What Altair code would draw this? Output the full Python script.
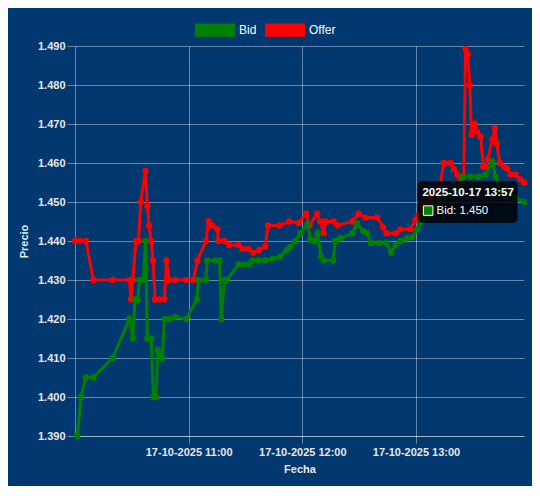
import altair as alt
import pandas as pd

# ---------------- data ----------------
series_names = ["Bid", "Offer"]
series_colors = ["#008000", "#ff0000"]

# minutes after 10:00 on 2025-10-17
bid_min = [1.2, 3.2, 5.7, 9.7, 19.9, 28.7, 30.5, 31.7, 33.1, 34.0, 36.1, 37.2, 38.2, 40.2, 41.4,
           42.7, 43.7, 46.1, 47.2, 49.8, 52.9, 58.7, 64.3, 65.2, 69.1, 69.8, 74.0, 76.3, 77.2, 78.9,
           80.2, 86.3, 89.0, 92.0, 93.7, 96.9, 100.4, 104.3, 108.4, 111.9, 113.6, 116.3, 118.9, 122.8,
           124.2, 126.3, 128.1, 129.9, 131.3, 136.2, 137.4, 140.1, 146.3, 148.9, 152.1, 154.2, 156.3,
           160.3, 164.4, 166.9, 169.2, 171.8, 175.3, 178.0, 180.6, 182.9, 185.5, 188.7, 192.9, 197.2,
           201.4, 204.6, 208.8, 213.0, 216.7, 220.3, 222.0, 224.7, 228.4, 232.6, 237.0]
bid_val = [1.390, 1.400, 1.405, 1.405, 1.410, 1.420, 1.415, 1.425, 1.425, 1.430, 1.430, 1.440, 1.415,
           1.415, 1.400, 1.400, 1.412, 1.410, 1.420, 1.420, 1.4205, 1.420, 1.425, 1.430, 1.430, 1.435,
           1.435, 1.435, 1.420, 1.430, 1.430, 1.434, 1.434, 1.434, 1.435, 1.435, 1.435, 1.4355, 1.436,
           1.4377, 1.4385, 1.440, 1.442, 1.4444, 1.4403, 1.440, 1.442, 1.436, 1.435, 1.435, 1.440,
           1.4407, 1.442, 1.4445, 1.4425, 1.442, 1.4395, 1.4395, 1.4395, 1.437, 1.439, 1.440, 1.4407,
           1.441, 1.443, 1.445, 1.447, 1.449, 1.451, 1.452, 1.453, 1.4565, 1.4565, 1.4565, 1.457,
           1.4604, 1.4565, 1.453, 1.452, 1.451, 1.450]

offer_min = [0.0, 2.6, 5.8, 9.7, 19.9, 28.7, 29.6, 30.5, 32.2, 33.5, 34.7, 37.2, 38.2, 39.1, 40.2,
             41.2, 42.3, 44.6, 47.2, 48.3, 49.8, 52.9, 58.7, 62.5, 64.6, 69.1, 70.5, 72.3, 75.2, 75.7,
             78.9, 81.4, 86.3, 88.4, 91.6, 94.2, 97.3, 100.4, 101.9, 108.0, 113.1, 118.0, 122.0, 123.8,
             127.8, 129.5, 131.3, 132.2, 136.5, 138.6, 146.3, 149.7, 153.3, 159.5, 162.6, 164.4, 169.2,
             171.8, 177.1, 179.7, 181.3, 184.1, 187.7, 191.9, 194.7, 198.2, 200.0, 201.8, 203.5, 205.2,
             206.1, 207.3, 208.4, 209.3, 211.1, 212.3, 214.1, 215.5, 216.7, 217.9, 220.3, 221.7, 222.6,
             224.3, 226.4, 228.2, 229.9, 232.6, 235.2, 237.0]
offer_val = [1.440, 1.440, 1.440, 1.430, 1.430, 1.430, 1.425, 1.430, 1.440, 1.440, 1.450, 1.458,
             1.449, 1.444, 1.440, 1.435, 1.425, 1.425, 1.425, 1.435, 1.430, 1.430, 1.430, 1.430,
             1.435, 1.440, 1.4451, 1.444, 1.443, 1.440, 1.440, 1.439, 1.439, 1.438, 1.438, 1.437,
             1.4377, 1.4386, 1.444, 1.444, 1.445, 1.4446, 1.447, 1.444, 1.447, 1.445, 1.442, 1.445,
             1.445, 1.444, 1.445, 1.447, 1.446, 1.446, 1.4435, 1.442, 1.442, 1.443, 1.443, 1.4455,
             1.4467, 1.4488, 1.451, 1.452, 1.460, 1.460, 1.4585, 1.457, 1.456, 1.4565, 1.4892, 1.488,
             1.480, 1.4672, 1.470, 1.468, 1.4668, 1.459, 1.459, 1.461, 1.466, 1.469, 1.465, 1.460,
             1.459, 1.4585, 1.457, 1.457, 1.4558, 1.455]

y_ticks = [1.39, 1.40, 1.41, 1.42, 1.43, 1.44, 1.45, 1.46, 1.47, 1.48, 1.49]
x_tick_hours = [11, 12, 13]

# ---------------- build tables ----------------
base_time = pd.Timestamp("2025-10-17 10:00:00")


def to_time(mins):
    return [base_time + pd.Timedelta(minutes=m) for m in mins]


bid_df = pd.DataFrame({"Fecha": to_time(bid_min), "Precio": bid_val, "Serie": "Bid"})
offer_df = pd.DataFrame({"Fecha": to_time(offer_min), "Precio": offer_val, "Serie": "Offer"})

BG = "#01386f"
FONT = "Liberation Sans"

x_enc = alt.X(
    "Fecha:T",
    title="Fecha",
    scale=alt.Scale(
        domain=[alt.DateTime(year=2025, month=10, date=17, hours=10, minutes=0),
                alt.DateTime(year=2025, month=10, date=17, hours=13, minutes=57)],
        nice=False,
    ),
    axis=alt.Axis(
        values=[alt.DateTime(year=2025, month=10, date=17, hours=h, minutes=0) for h in x_tick_hours],
        format="%d-%m-%Y %H:%M",
        labelAngle=0,
        labelOverlap=False,
        tickSize=7,
        labelPadding=3,
        titlePadding=6,
    ),
)
y_enc = alt.Y(
    "Precio:Q",
    title="Precio",
    scale=alt.Scale(domain=[1.39, 1.49], nice=False, zero=False),
    axis=alt.Axis(values=y_ticks, format=".3f", labelOverlap=False, tickCount=11, tickSize=8,
                  labelPadding=2, titlePadding=8),
)

color_scale = alt.Scale(domain=series_names, range=series_colors)
legend = alt.Legend(
    title=None,
    orient="none",
    legendX=120,
    legendY=-36,
    direction="horizontal",
    symbolType="M-1,-0.33H1V0.33H-1Z",
    symbolSize=1600,
    symbolStrokeWidth=0,
    symbolOpacity=1,
    labelFont=FONT,
    labelFontSize=12,
    labelColor="#ffffff",
    labelOffset=4,
    columnPadding=8,
)


def series_layers(df, color):
    line = alt.Chart(df).mark_line(strokeWidth=3, color=color).encode(x=x_enc, y=y_enc)
    pts = alt.Chart(df).mark_circle(size=40, opacity=1).encode(
        x=x_enc, y=y_enc, fill=alt.Fill("Serie:N", scale=color_scale, legend=legend)
    )
    return [line, pts]


# ---------------- tooltip annotation (last Bid point) ----------------
last_time = bid_df["Fecha"].iloc[-1]
tip_box = pd.DataFrame({
    "Fecha": [base_time + pd.Timedelta(minutes=180.8)],
    "Fecha2": [base_time + pd.Timedelta(minutes=233.6)],
    "Precio": [1.4554],
    "Precio2": [1.4446],
})
tip_title = pd.DataFrame({
    "Fecha": [base_time + pd.Timedelta(minutes=183.4)],
    "Precio": [1.4524],
    "t": [last_time.strftime("%Y-%m-%d %H:%M")],
})
tip_body = pd.DataFrame({
    "Fecha": [base_time + pd.Timedelta(minutes=190.8)],
    "Precio": [1.4478],
    "t": [f"Bid: {bid_val[-1]:.3f}"],
})
tip_sq = pd.DataFrame({
    "Fecha": [base_time + pd.Timedelta(minutes=186.4)],
    "Precio": [1.4478],
})

box = alt.Chart(tip_box).mark_rect(color="#000000", opacity=0.82, cornerRadius=5).encode(
    x=x_enc, x2="Fecha2:T", y=y_enc, y2="Precio2:Q"
)
t1 = alt.Chart(tip_title).mark_text(
    align="left", baseline="middle", color="#ffffff", font=FONT, fontSize=11.5, fontWeight="bold"
).encode(x=x_enc, y=y_enc, text="t:N")
t2 = alt.Chart(tip_body).mark_text(
    align="left", baseline="middle", color="#ffffff", font=FONT, fontSize=11.5
).encode(x=x_enc, y=y_enc, text="t:N")
sq = alt.Chart(tip_sq).mark_square(
    size=90, color=series_colors[0], opacity=1, filled=True, stroke="#ffffff", strokeWidth=1
).encode(x=x_enc, y=y_enc)

layers = (series_layers(offer_df, series_colors[1]) + series_layers(bid_df, series_colors[0])
          + [box, sq, t1, t2])

chart = alt.layer(*layers).properties(
    width=449,
    height=390,
    background=BG,
    padding={"left": 67, "top": 38, "right": 8, "bottom": 50},
    autosize=alt.AutoSizeParams(type="none"),
).configure_view(stroke=None).configure_axis(
    gridColor="#ffffff",
    gridOpacity=0.4,
    domainColor="#ffffff",
    domainOpacity=0.4,
    tickColor="#ffffff",
    tickOpacity=0.4,
    labelColor="#e8e8e8",
    labelFont=FONT,
    labelFontSize=11,
    labelFontWeight="bold",
    titleColor="#e8e8e8",
    titleFont=FONT,
    titleFontSize=11,
    titleFontWeight="bold",
)

chart.save("out.html", embed_options={"renderer": "svg", "actions": False})
